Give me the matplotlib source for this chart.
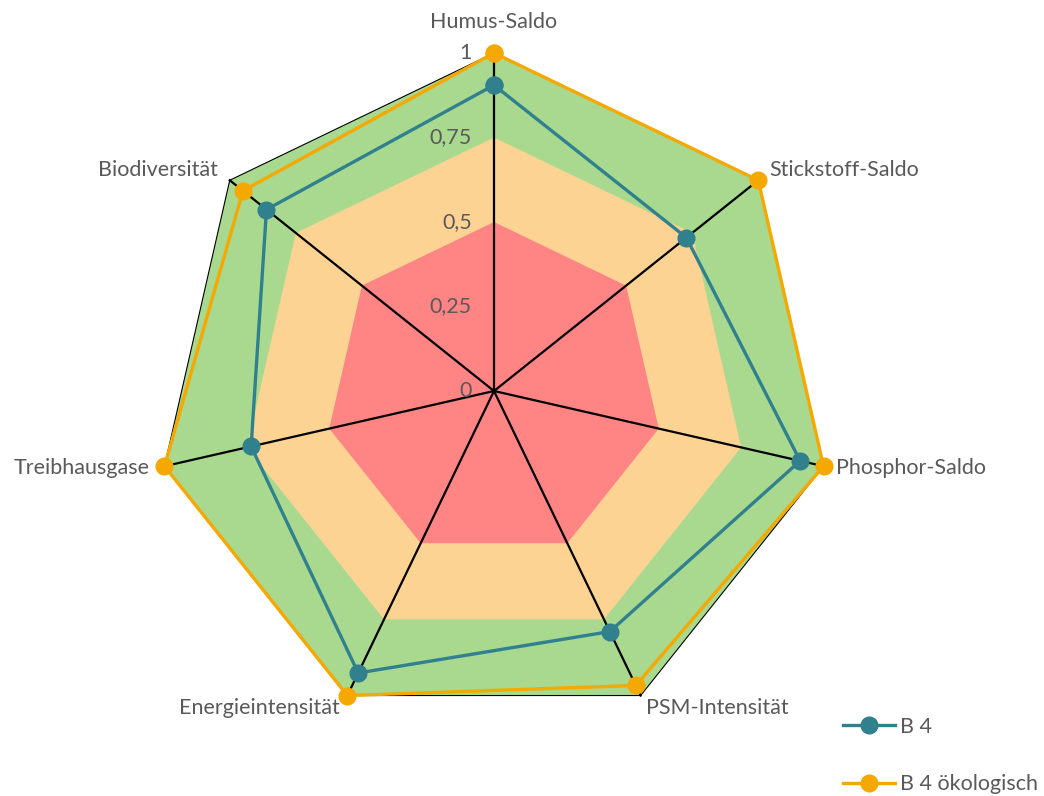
import numpy as np
import matplotlib
matplotlib.use("Agg")
import matplotlib.pyplot as plt

categories = ["Humus-Saldo", "Stickstoff-Saldo", "Phosphor-Saldo", "PSM-Intensität",
              "Energieintensität", "Treibhausgase", "Biodiversität"]
b4 = [0.905, 0.728, 0.929, 0.79, 0.926, 0.737, 0.861]
b4_oeko = [1.0, 1.0, 1.0, 0.967, 1.0, 1.0, 0.95]
bands = [0.5, 0.75, 1.0]
band_colors = ["#FF8585", "#FDD394", "#A9D98E"]
ticks = [0, 0.25, 0.5, 0.75, 1]
tick_labels = ["0", "0,25", "0,5", "0,75", "1"]

plt.rcParams['font.family'] = ['Lato', 'DejaVu Sans']
TXT = "#595959"
FS = 15.5

n = len(categories)
ang = np.arange(n) * 2 * np.pi / n

def xy(vals):
    v = np.asarray(vals, float)
    x = v * np.sin(ang)
    y = v * np.cos(ang)
    return np.append(x, x[0]), np.append(y, y[0])

W, H = 1044, 796
cx, cy, R = 494, 391, 338
fig = plt.figure(figsize=(W / 100, H / 100), dpi=100)
ax = fig.add_axes([0, 0, 1, 1])
ax.set_xlim(-cx / R, (W - cx) / R)
ax.set_ylim(-(H - cy) / R, cy / R)
ax.axis("off")

# background bands (largest first)
for lvl, col in sorted(zip(bands, band_colors), reverse=True):
    x, y = xy([lvl] * n)
    ax.fill(x, y, color=col, zorder=1, lw=0)
x, y = xy([1.0] * n)
ax.plot(x, y, color="black", lw=0.8, zorder=2)

# radial axes
for a in ang:
    ax.plot([0, np.sin(a)], [0, np.cos(a)], color="black", lw=1.6, zorder=3)

# series
x, y = xy(b4)
ax.plot(x, y, color="#31808E", lw=2.4, marker="o", ms=12, zorder=5, label="B 4")
x, y = xy(b4_oeko)
ax.plot(x, y, color="#F5A800", lw=2.4, marker="o", ms=12, zorder=6, label="B 4 ökologisch")

# tick labels
for t, lab in zip(ticks, tick_labels):
    ax.text(-22 / R, t, lab, ha="right", va="center", fontsize=FS, color=TXT, zorder=7)

# category labels
pos = [
    (494, 22, "center", "center"),
    (769, 170, "left", "center"),
    (836, 468, "left", "center"),
    (646, 708, "left", "center"),
    (340, 708, "right", "center"),
    (150, 468, "right", "center"),
    (218, 170, "right", "center"),
]
for cat, (px, py, ha, va) in zip(categories, pos):
    ax.text((px - cx) / R, (cy - py) / R, cat, ha=ha, va=va, fontsize=FS, color=TXT)

leg = ax.legend(loc="lower left", bbox_to_anchor=(834 / W, -7 / H), frameon=False,
                fontsize=FS, labelcolor=TXT, handlelength=2.42, labelspacing=1.75,
                handletextpad=0.23, borderaxespad=0.0)

fig.savefig("out.png", dpi=100)
